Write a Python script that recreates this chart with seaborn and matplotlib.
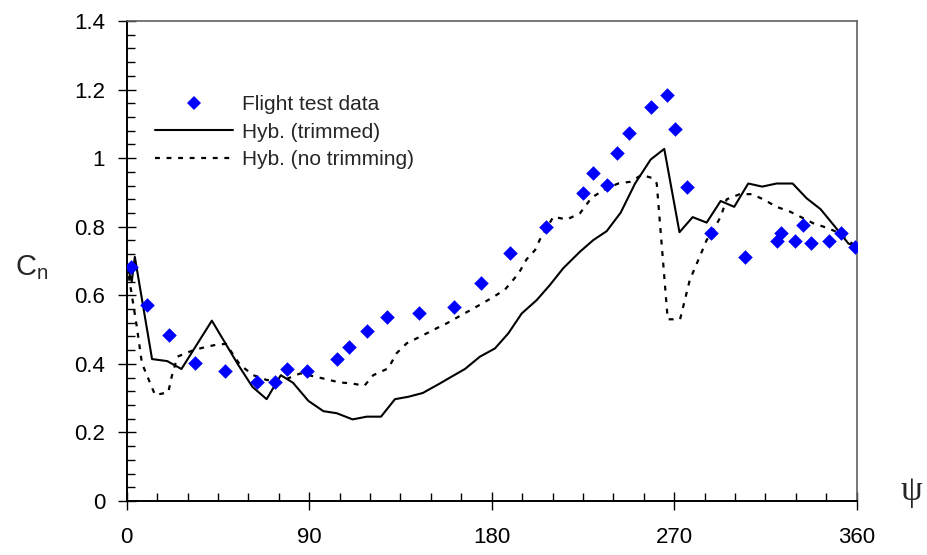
import matplotlib
matplotlib.use("Agg")
import matplotlib.pyplot as plt
import seaborn as sns
import pandas as pd
from matplotlib.ticker import MultipleLocator, FormatStrFormatter
from matplotlib.lines import Line2D

# ---- data ----
flight_psi = [2, 10, 20.7, 33.7, 48.3, 64.3, 73, 79, 88.8, 103.6, 109.5, 118.4, 128.2, 144,
              161.6, 174.6, 189.2, 207, 224.9, 229.8, 236.7, 241.6, 247.6, 258.4, 266.3, 270.2,
              276.2, 288, 304.8, 320.5, 322.5, 329.4, 333.4, 337.3, 346.2, 352.1, 359]
flight_cn = [0.682, 0.571, 0.483, 0.402, 0.378, 0.348, 0.348, 0.385, 0.378, 0.414, 0.449, 0.496,
             0.536, 0.547, 0.565, 0.636, 0.723, 0.798, 0.898, 0.957, 0.921, 1.015, 1.073, 1.149,
             1.184, 1.085, 0.917, 0.782, 0.712, 0.759, 0.782, 0.759, 0.805, 0.752, 0.759, 0.782, 0.741]

trim_psi = [0, 2.5, 4, 12.5, 20, 27, 42, 55, 62, 69, 76, 82, 89.6, 97, 103.6, 111.4, 118.4, 125.4,
            132.3, 138.9, 146, 154.5, 160.3, 166.8, 174.2, 181.6, 188.2, 194.8, 202.2, 208.7,
            215.3, 223.5, 230.1, 236.7, 243.6, 250.7, 258.4, 265.1, 272.6, 279.1, 286, 292.9,
            299.6, 306.5, 313.4, 320.5, 328.4, 335.3, 342.2, 349.3, 355.9, 360]
trim_cn = [0.69, 0.64, 0.712, 0.414, 0.408, 0.385, 0.526, 0.397, 0.333, 0.297, 0.367, 0.345, 0.292,
           0.262, 0.256, 0.238, 0.246, 0.246, 0.297, 0.304, 0.315, 0.343, 0.363, 0.385, 0.421,
           0.445, 0.489, 0.547, 0.586, 0.63, 0.679, 0.727, 0.761, 0.787, 0.841, 0.926, 0.996,
           1.027, 0.784, 0.828, 0.812, 0.875, 0.858, 0.926, 0.917, 0.926, 0.926, 0.883, 0.851,
           0.8, 0.751, 0.741]

notrim_psi = [0, 2, 5, 7.5, 14, 20.5, 22.2, 25, 32.9, 39.5, 45.2, 49, 55.9, 62.4, 69, 75.6, 85.5,
              92, 98.6, 104.7, 111, 117.2, 121.6, 129, 133.1, 138.1, 146.3, 152.9, 157.8, 163.5,
              169.6, 175.9, 181.6, 186.6, 193.3, 197.2, 201.4, 203.8, 210.4, 217, 223.5, 229.3,
              236.7, 242.4, 248.2, 254, 259.7, 261.4, 266.8, 272.9, 277.7, 282.7, 286, 289.3,
              292.9, 295.9, 302.4, 308.2, 313.9, 320.5, 327.1, 332.9, 338.6, 345.2, 350.1, 360]
notrim_cn = [0.69, 0.62, 0.508, 0.402, 0.309, 0.317, 0.363, 0.421, 0.44, 0.45, 0.457, 0.458, 0.397,
             0.367, 0.353, 0.348, 0.372, 0.364, 0.355, 0.346, 0.343, 0.336, 0.367, 0.387, 0.431,
             0.46, 0.484, 0.504, 0.518, 0.537, 0.557, 0.578, 0.598, 0.617, 0.664, 0.705, 0.732,
             0.763, 0.829, 0.821, 0.839, 0.885, 0.912, 0.926, 0.931, 0.951, 0.941, 0.926, 0.53,
             0.53, 0.645, 0.714, 0.761, 0.79, 0.829, 0.88, 0.895, 0.895, 0.88, 0.858, 0.844,
             0.827, 0.81, 0.797, 0.785, 0.741]

x_ticks = [0, 90, 180, 270, 360]
labels = ["Flight test data", "Hyb. (trimmed)", "Hyb. (no trimming)"]

# ---- style ----
sns.set_style("white")
plt.rcParams["font.family"] = ["Liberation Sans", "DejaVu Sans"]
plt.rcParams["mathtext.fontset"] = "custom"
plt.rcParams["mathtext.rm"] = "Liberation Sans"

fig = plt.figure(figsize=(9.27, 5.55), dpi=100)
ax = fig.add_axes([126.7 / 927, 1 - 501 / 555, 730 / 927, 480 / 555])

df_f = pd.DataFrame({"psi": flight_psi, "cn": flight_cn})
df_t = pd.DataFrame({"psi": trim_psi, "cn": trim_cn})
df_n = pd.DataFrame({"psi": notrim_psi, "cn": notrim_cn})

sns.lineplot(data=df_n, x="psi", y="cn", ax=ax, color="black", lw=1.6,
             linestyle=(0, (2.2, 3.0)), sort=False, estimator=None, zorder=2)
sns.lineplot(data=df_t, x="psi", y="cn", ax=ax, color="black", lw=1.5,
             sort=False, estimator=None, zorder=3)
sns.scatterplot(data=df_f, x="psi", y="cn", ax=ax, marker="D", s=55, color="#0000FF",
                linewidth=0, zorder=4)

ax.set_xlim(0, 360)
ax.set_ylim(0, 1.4)
ax.set_xticks(x_ticks)
ax.xaxis.set_minor_locator(MultipleLocator(15))
ax.yaxis.set_major_locator(MultipleLocator(0.2))
ax.yaxis.set_minor_locator(MultipleLocator(0.04))
ax.yaxis.set_major_formatter(FormatStrFormatter("%g"))
ax.set_xlabel("")
ax.set_ylabel("")

ax.tick_params(which="major", direction="inout", length=13, width=1.0, color="black",
               labelsize=16, labelcolor="black")
ax.tick_params(axis="x", which="major", pad=12)
ax.tick_params(axis="y", which="major", pad=9)
ax.tick_params(which="minor", direction="in", length=6, width=1.0, color="black")
ax.tick_params(which="both", left=True, bottom=True, top=False, right=False)

for s in ["left", "bottom"]:
    ax.spines[s].set_color("black")
    ax.spines[s].set_linewidth(1.4)
for s in ["top", "right"]:
    ax.spines[s].set_color("#606060")
    ax.spines[s].set_linewidth(1.2)

handles = [
    Line2D([], [], marker="D", color="#0000FF", linestyle="none", markersize=7, markeredgewidth=0),
    Line2D([], [], color="black", lw=1.5),
    Line2D([], [], color="black", lw=1.6, linestyle=(0, (2.2, 3.0))),
]
ax.legend(handles, labels, loc="upper left", bbox_to_anchor=(0.039, 0.845), frameon=False,
          fontsize=15, handlelength=3.75, handletextpad=0.42, labelspacing=0.4,
          borderpad=0, borderaxespad=0)

fig.text(32 / 927, 1 - 268 / 555, r"$\mathregular{C_n}$", fontsize=21, ha="center", va="center")
fig.text(911 / 927, 1 - 492 / 555, "ψ", fontsize=25, ha="center", va="center",
         family=["Liberation Serif", "DejaVu Serif"])

fig.savefig("out.png", dpi=100)
